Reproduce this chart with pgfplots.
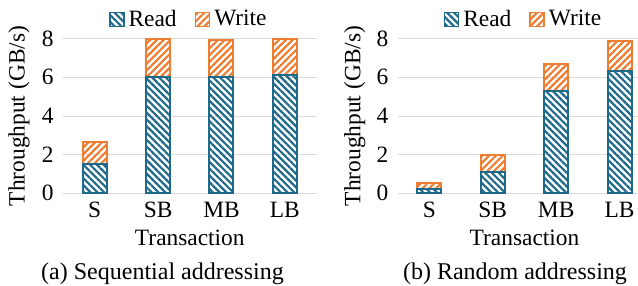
\documentclass[border=0pt]{standalone}
\usepackage{pgfplots}
\pgfplotsset{compat=1.18}
\usepackage{fontspec}
\setmainfont{Liberation Serif}
\usetikzlibrary{patterns.meta}
\definecolor{rdblue}{HTML}{1F6A8A}
\definecolor{wrorange}{HTML}{ED7D31}
\definecolor{gridgray}{HTML}{DADADA}

\pgfplotstableread{
x read write
0 1.50 1.14
1 6.03 1.94
2 6.03 1.92
3 6.10 1.90
}\seqdata
\pgfplotstableread{
x read write
0 0.20 0.32
1 1.09 0.89
2 5.29 1.40
3 6.33 1.57
}\randdata

\newcommand{\figfont}{\fontsize{11.7}{13.5}\selectfont}
\pgfplotsset{
  mystyle/.style={
    scale only axis,
    width=126.8pt, height=77.3pt,
    anchor=south west,
    ybar stacked,
    bar width=12pt,
    xmin=-0.5, xmax=3.5,
    ymin=0, ymax=8,
    ytick={0,2,4,6,8},
    xtick={0,1,2,3},
    xticklabels={S,SB,MB,LB},
    ymajorgrids,
    grid style={gridgray, line width=0.5pt},
    axis line style={draw=none},
    major tick style={draw=none},
    /pgf/number format/assume math mode=true,
    tick label style={font=\figfont},
    label style={font=\figfont},
    yticklabel style={xshift=-1.2pt},
    xticklabel style={yshift=-1pt},
    xlabel={Transaction},
    ylabel={Throughput (GB/s)},
    xlabel style={at={(axis description cs:0.5,0)},anchor=center,yshift=-22.1pt},
    ylabel style={at={(axis description cs:0,0.5)},anchor=center,yshift=22pt},
    legend columns=2,
    legend style={draw=none, fill=none, at={(0.5,1.125)}, anchor=center,
      font=\figfont,
      /tikz/every even column/.append style={column sep=7pt},
      inner sep=0pt},
    legend cell align=left,
  },
  readstyle/.style={draw=rdblue, line width=1pt,
    pattern={Lines[angle=-45,distance=2.4pt,line width=1.1pt]}, pattern color=rdblue},
  writestyle/.style={draw=wrorange, line width=1pt,
    pattern={Lines[angle=45,distance=2.4pt,line width=1.1pt]}, pattern color=wrorange},
  mylegimg/.style={legend image code/.code={\draw[##1, line width=0.8pt] (0pt,-3.5pt) rectangle (7pt,3.5pt);}},
}

\begin{document}
\begin{tikzpicture}
\begin{axis}[mystyle, at={(31.5pt,45.85pt)}]
\addplot[readstyle, mylegimg] table[x=x,y=read] {\seqdata};
\addplot[writestyle, mylegimg] table[x=x,y=write] {\seqdata};
\legend{Read,Write}
\end{axis}
\begin{axis}[mystyle, at={(198.85pt,45.85pt)}, ylabel style={yshift=-0.6pt}]
\addplot[readstyle, mylegimg] table[x=x,y=read] {\randdata};
\addplot[writestyle, mylegimg] table[x=x,y=write] {\randdata};
\legend{Read,Write}
\end{axis}
\node[anchor=base, font=\fontsize{12}{14}\selectfont] at (81.25pt,3pt) {(a) Sequential addressing};
\node[anchor=base, font=\fontsize{12}{14}\selectfont] at (257.5pt,3pt) {(b) Random addressing};
\pgfresetboundingbox
\path[use as bounding box] (0,0) rectangle (319pt,142.5pt);
\end{tikzpicture}
\end{document}
